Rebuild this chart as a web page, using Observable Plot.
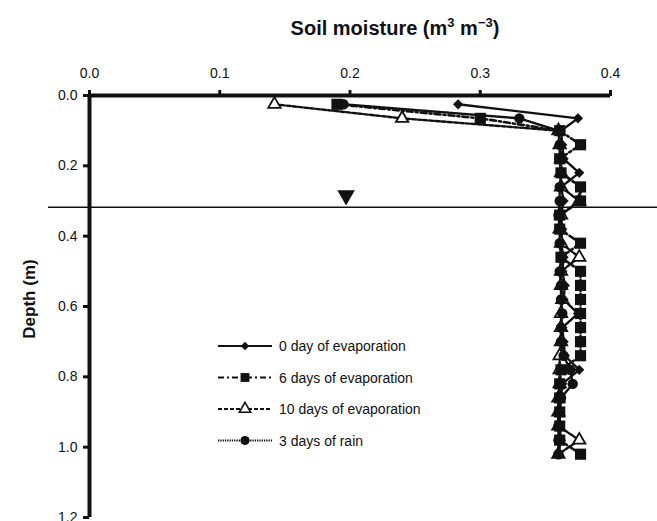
<!DOCTYPE html>
<html>
<head>
<meta charset="utf-8">
<script src="https://cdn.jsdelivr.net/npm/d3@7"></script>
<script src="https://cdn.jsdelivr.net/npm/@observablehq/plot@0.6"></script>
<style>
  html, body { margin: 0; padding: 0; background: #fff; }
  svg { font-family: "Liberation Sans", Arial, Helvetica, sans-serif; }
</style>
</head>
<body>
<div id="chart"></div>
<script>
// ---- data ----
const depth = [0.025, 0.065, 0.10, 0.14, 0.18, 0.22, 0.26, 0.30, 0.34, 0.38, 0.42, 0.46, 0.50,
               0.54, 0.58, 0.62, 0.66, 0.70, 0.74, 0.78, 0.82, 0.86, 0.90, 0.94, 0.98, 1.02];
const day0  = [0.283, 0.375, 0.362, 0.363, 0.364, 0.376, 0.362, 0.364, 0.362, 0.363, 0.362, 0.364, 0.363,
               0.365, 0.364, 0.375, 0.363, 0.364, 0.365, 0.376, 0.363, 0.362, 0.361, 0.361, 0.362, 0.360];
const day6  = [0.190, 0.300, 0.361, 0.377, 0.361, 0.362, 0.377, 0.377, 0.361, 0.361, 0.377, 0.362, 0.377,
               0.377, 0.377, 0.377, 0.377, 0.377, 0.377, 0.362, 0.361, 0.361, 0.361, 0.361, 0.361, 0.377];
const day10 = [0.142, 0.240, 0.360, 0.361, 0.362, 0.362, 0.362, 0.376, 0.362, 0.361, 0.362, 0.376, 0.362,
               0.362, 0.363, 0.362, 0.362, 0.362, 0.361, 0.361, 0.361, 0.360, 0.360, 0.360, 0.376, 0.360];
const rain  = [0.195, 0.330, 0.360, 0.361, 0.361, 0.362, 0.361, 0.361, 0.360, 0.361, 0.361, 0.362, 0.361,
               0.362, 0.362, 0.363, 0.362, 0.362, 0.364, 0.369, 0.371, 0.362, 0.361, 0.360, 0.360, 0.360];
const seriesNames = ["0 day of evaporation", "6 days of evaporation", "10 days of evaporation", "3 days of rain"];
const xTicks = [0, 0.1, 0.2, 0.3, 0.4];
const yTicks = [0, 0.2, 0.4, 0.6, 0.8, 1.0, 1.2];
const waterTable = [{x: 0.197, depth: 0.318}];

const toRows = (vals) => vals.map((v, i) => ({x: v, depth: depth[i]}));
const rows0 = toRows(day0), rows6 = toRows(day6), rows10 = toRows(day10), rowsR = toRows(rain);

const styles = [
  {dash: null, width: 2.4, symbol: "diamond2", r: 4.6, fill: "#111", stroke: "none"},
  {dash: "6,3,2,3", width: 2.6, symbol: "square", r: 6.3, fill: "#111", stroke: "none"},
  {dash: "4,2", width: 2.4, symbol: "triangle", r: 4.6, fill: "#fff", stroke: "#111"},
  {dash: "1.3,1", width: 2.4, symbol: "circle", r: 5.2, fill: "#111", stroke: "none"}
];

const fmt = d3.format(".1f");
const W = 657, H = 521;

const lineMark = (rows, s) => Plot.line(rows, {x: "x", y: "depth", stroke: "#111", strokeWidth: s.width,
  strokeDasharray: s.dash, curve: "linear"});
const dotMark = (rows, s) => Plot.dot(rows, {x: "x", y: "depth", symbol: () => s.symbol, r: s.r,
  fill: s.fill, stroke: s.stroke, strokeWidth: 1.8});

const plot = Plot.plot({
  width: W,
  height: H,
  marginLeft: 89,
  marginRight: 47,
  marginTop: 95,
  marginBottom: 4,
  style: {fontFamily: "Liberation Sans, Arial, sans-serif", fontSize: "14px", color: "#111", background: "#fff"},
  x: {domain: [0, 0.4]},
  y: {domain: [0, 1.2], reverse: true},
  symbol: {type: "identity"},
  marks: [
    Plot.ruleY(waterTable, {y: "depth", x1: -0.0315, x2: 0.44, stroke: "#111", strokeWidth: 1.5}),
    Plot.dot(waterTable, {x: "x", y: (d) => d.depth - 0.034, symbol: "triangle", rotate: 180, r: 6.5, fill: "#111"}),
    lineMark(rows10, styles[2]),
    lineMark(rows6, styles[1]),
    lineMark(rowsR, styles[3]),
    lineMark(rows0, styles[0]),
    dotMark(rows10, styles[2]),
    dotMark(rows6, styles[1]),
    dotMark(rowsR, styles[3]),
    dotMark(rows0, styles[0]),
    Plot.axisX({anchor: "top", ticks: xTicks, tickFormat: fmt, tickSize: 6, tickPadding: 12,
      strokeWidth: 3, fontSize: 14, label: null}),
    Plot.axisY({anchor: "left", ticks: yTicks, tickFormat: fmt, tickSize: 6, tickPadding: 6,
      strokeWidth: 3, fontSize: 14, label: null}),
    Plot.ruleY([0], {stroke: "#111", strokeWidth: 4}),
    Plot.ruleX([0], {stroke: "#111", strokeWidth: 4})
  ]
});

const svg = d3.select(plot.tagName.toLowerCase() === "svg" ? plot : plot.querySelector("svg"));

// Title with superscripts
const title = svg.append("text")
  .attr("x", 395).attr("y", 35)
  .attr("text-anchor", "middle")
  .attr("font-size", 20).attr("font-weight", "bold").attr("fill", "#111");
title.append("tspan").text("Soil moisture (m");
title.append("tspan").attr("dy", -8).attr("font-size", 13).text("3");
title.append("tspan").attr("dy", 8).text(" m");
title.append("tspan").attr("dy", -8).attr("font-size", 13).text("\u22123");
title.append("tspan").attr("dy", 8).text(")");

// Y axis label
svg.append("text")
  .attr("transform", "translate(35,299) rotate(-90)")
  .attr("text-anchor", "middle")
  .attr("font-size", 17).attr("font-weight", "bold").attr("fill", "#111")
  .text("Depth (m)");

// Legend
const legendTop = 346, legendStep = 31.5, lx0 = 218, lx1 = 272, tx = 279;
const symGen = {diamond2: d3.symbolDiamond2, square: d3.symbolSquare, triangle: d3.symbolTriangle, circle: d3.symbolCircle};
const legendR = [3.8, 5.0, 4.2, 4.6];
seriesNames.forEach((name, i) => {
  const s = styles[i];
  const y = legendTop + i * legendStep;
  const g = svg.append("g");
  g.append("line").attr("x1", lx0).attr("x2", lx1).attr("y1", y).attr("y2", y)
    .attr("stroke", "#111").attr("stroke-width", 2).attr("stroke-dasharray", s.dash);
  g.append("path").attr("transform", `translate(${(lx0 + lx1) / 2},${y})`)
    .attr("d", d3.symbol(symGen[s.symbol], Math.PI * legendR[i] * legendR[i])())
    .attr("fill", s.fill).attr("stroke", s.stroke).attr("stroke-width", 1.6);
  g.append("text").attr("x", tx).attr("y", y + 5).attr("text-anchor", "start")
    .attr("font-size", 14).attr("fill", "#111").text(name);
});

document.getElementById("chart").appendChild(plot);
</script>
</body>
</html>
